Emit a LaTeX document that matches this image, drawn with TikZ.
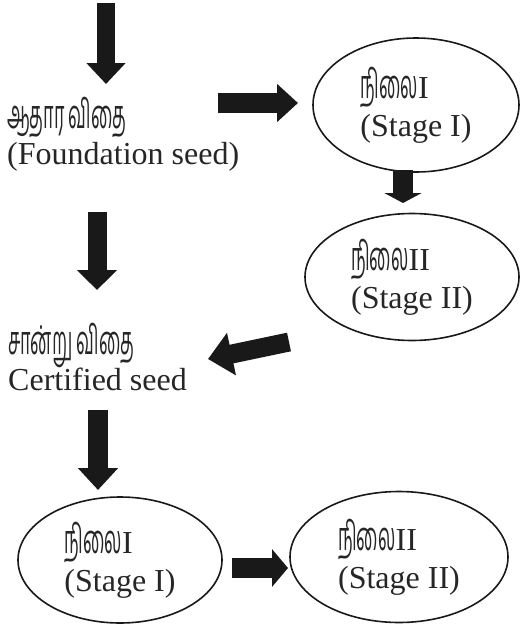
\documentclass[tikz,border=0pt]{standalone}
\usepackage{fontspec}
\setmainfont{Liberation Serif}
\newfontfamily\tamil[Script=Tamil,Scale=1.25,FakeStretch=0.45]{Hind Madurai}
\usetikzlibrary{arrows.meta,shapes.geometric}
\begin{document}
\begin{tikzpicture}[x=1pt,y=-1pt,
  lbl/.style={font=\fontsize{32}{36}\selectfont, text=black!85, align=left, inner sep=0pt, anchor=base west},
  stage/.style={ellipse, draw=black!90, line width=1.6pt, font=\fontsize{32}{38}\selectfont, text=black!85, align=left, inner sep=0pt},
  bigarr/.style n args={3}{draw=black!90, line width=#1, -{Triangle[length=#3,width=#2]}}
]
\useasboundingbox (0,0) rectangle (520,624);

% text labels
\node[lbl] (found) at (7,164) {{\tamil ஆதார விதை}\\(Foundation seed)};
\node[lbl] (cert) at (8,390) {{\tamil சான்று விதை}\\Certified seed};

% ellipses
\node[stage, minimum width=206pt, minimum height=134pt] (s1) at (416,105) {{\tamil நிலை}I\\(Stage I)};
\node[stage, minimum width=214pt, minimum height=127pt] (s2) at (412,277) {{\tamil நிலை}II\\(Stage II)};
\node[stage, minimum width=204pt, minimum height=126pt] (s3) at (120,560) {{\tamil நிலை}I\\(Stage I)};
\node[stage, minimum width=218pt, minimum height=131pt] (s4) at (399,557) {{\tamil நிலை}II\\(Stage II)};

% arrow end points
\coordinate (a1s) at (106,3);   \coordinate (a1e) at (106,84);
\coordinate (a2s) at (218,103); \coordinate (a2e) at (298,103);
\coordinate (a3s) at (403,170); \coordinate (a3e) at (403,203);
\coordinate (a4s) at (97,212);  \coordinate (a4e) at (97,290);
\coordinate (a5s) at (289,342); \coordinate (a5e) at (208,359);
\coordinate (a6s) at (98,410);  \coordinate (a6e) at (98,490);
\coordinate (a7s) at (232,568); \coordinate (a7e) at (288,568);

\draw[bigarr={18pt}{38pt}{21pt}] (a1s) -- (a1e);
\draw[bigarr={20pt}{37pt}{21pt}] (a2s) -- (a2e);
\draw[bigarr={20pt}{37pt}{10pt}] (a3s) -- (a3e);
\draw[bigarr={19pt}{39pt}{20pt}] (a4s) -- (a4e);
\draw[bigarr={19pt}{42pt}{24pt}] (a5s) -- (a5e);
\draw[bigarr={20pt}{39pt}{22pt}] (a6s) -- (a6e);
\draw[bigarr={20pt}{37pt}{16pt}] (a7s) -- (a7e);
\end{tikzpicture}
\end{document}
